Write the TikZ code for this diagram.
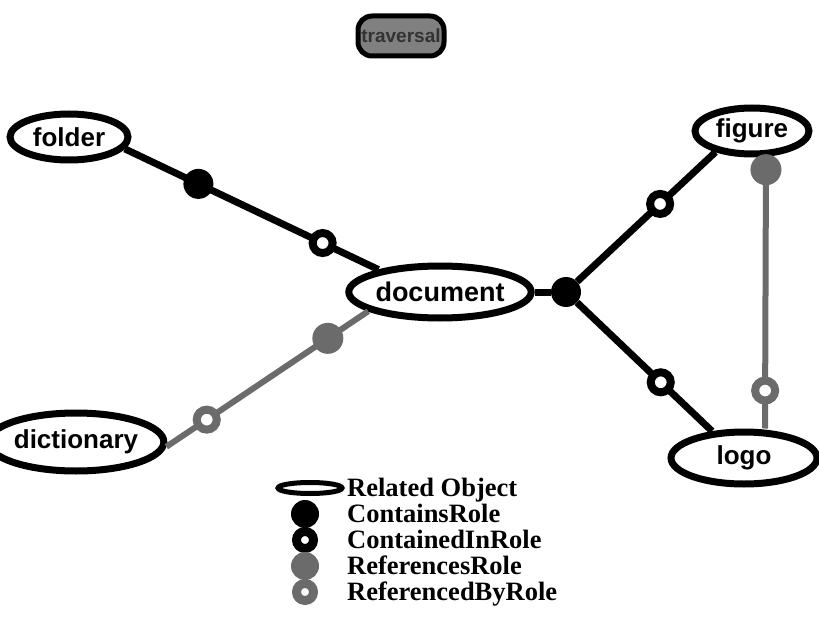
\documentclass[tikz,border=0pt]{standalone}
\usepackage{fontspec}
\setmainfont{Liberation Serif}
\setsansfont{Liberation Sans}
\usetikzlibrary{shapes.geometric}
\colorlet{refgray}{black!58}
\tikzset{
  obj/.style={ellipse, draw, line width=7pt, fill=white, inner sep=0pt,
    font=\sffamily\bfseries\fontsize{26}{26}\selectfont},
  rel/.style={line width=7pt},
  refrel/.style={line width=6pt, draw=refgray},
  contains/.style={circle, fill=black, inner sep=0pt, minimum size=30pt},
  containedin/.style={circle, draw, line width=8pt, fill=white, inner sep=0pt, minimum size=20pt},
  references/.style={circle, fill=refgray, inner sep=0pt, minimum size=31pt},
  referencedby/.style={circle, draw=refgray, line width=8pt, fill=white, inner sep=0pt, minimum size=20pt},
  legtext/.style={anchor=base west, inner sep=0pt, font=\bfseries\fontsize{26.5}{26.5}\selectfont}
}
\begin{document}
\begin{tikzpicture}[x=1pt,y=-1pt]
    \useasboundingbox (0,0) rectangle (819,631);
    \node[draw, line width=5pt, rounded corners=14pt, fill=black!50, text=black!80,
      minimum width=86pt, minimum height=40pt, inner sep=1pt,
      font=\sffamily\bfseries\fontsize{19}{19}\selectfont] (traversal) at (401,36) {traversal};

    \node[obj, minimum width=118pt, minimum height=46pt] (folder) at (69,137) {folder};
    \node[obj, minimum width=144pt, minimum height=52pt, font=\sffamily\bfseries\fontsize{27}{27}\selectfont] (document) at (440,292) {document};
    \node[obj, minimum width=114pt, minimum height=46pt] (figure) at (752,131) {figure};
    \node[obj, minimum width=146pt, minimum height=52pt] (logo) at (744,458) {logo};
    \node[obj, minimum width=152pt, minimum height=58pt] (dictionary) at (76,442) {dictionary};
    \node[contains] (hub) at (566,292) {};

    \draw[rel] (folder.-12) -- node[contains, pos=0.29] {} node[containedin, pos=0.78] {} (document.160);
    \draw[rel] (document.0) -- (hub);
    \draw[rel] (hub) -- node[containedin, pos=0.6] {} (figure.-150);
    \draw[rel] (hub) -- node[containedin, pos=0.62] {} (logo.140);
    \draw[refrel] (dictionary.-3) -- node[referencedby, pos=0.2] {} node[references, pos=0.8] {} (document.195);
    \draw[refrel] ([xshift=14pt]figure.south) -- node[references, pos=0.045] {} node[referencedby, pos=0.86] {} ([xshift=21pt]logo.north);

    % legend
    \node[obj, line width=5pt, minimum width=64pt, minimum height=11pt] (lobj) at (310,488) {};
    \node[contains, minimum size=28pt] (lcontains) at (305,514) {};
    \node[containedin, line width=9pt, minimum size=17pt] (lcontainedin) at (305,540) {};
    \node[references, minimum size=28pt] (lreferences) at (305,566) {};
    \node[referencedby, line width=9pt, minimum size=17pt] (lreferencedby) at (305,592) {};
    \node[legtext] (tobj) at (347,496) {Related Object};
    \node[legtext] (tcontains) at (347,522) {ContainsRole};
    \node[legtext] (tcontainedin) at (347,548) {ContainedInRole};
    \node[legtext] (treferences) at (347,574) {ReferencesRole};
    \node[legtext] (treferencedby) at (347,600) {ReferencedByRole};
\end{tikzpicture}
\end{document}
